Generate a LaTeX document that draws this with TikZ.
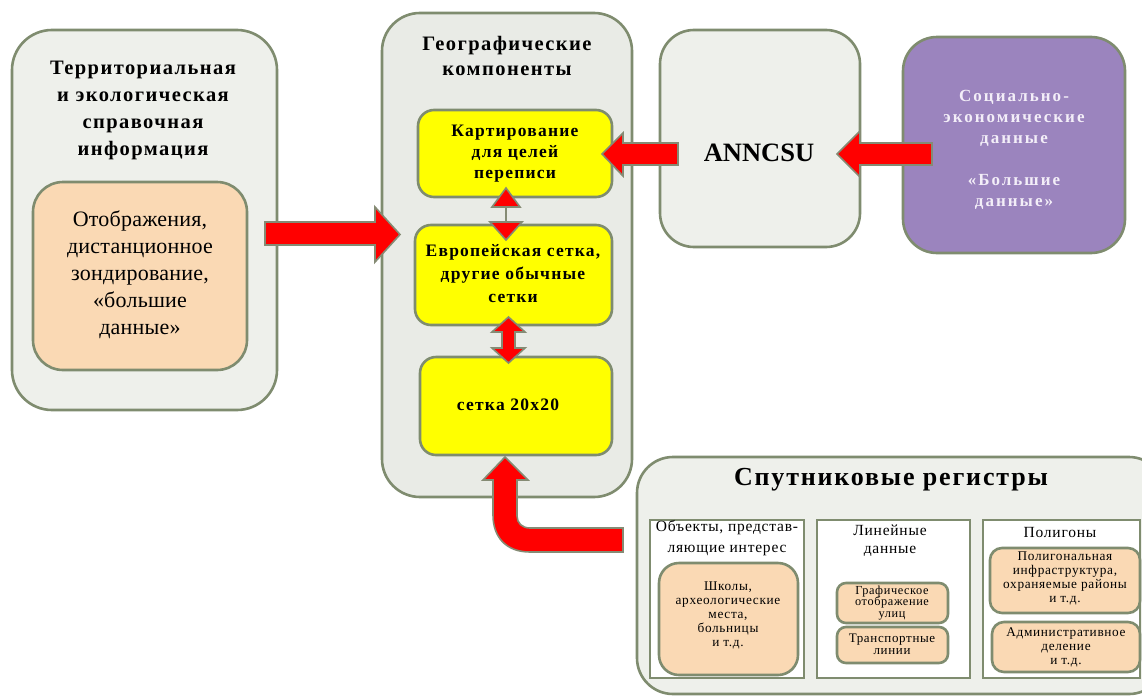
\documentclass[tikz,border=0pt]{standalone}
\usepackage{fontspec}
\setmainfont{Liberation Serif}
\newfontfamily\tnr{Liberation Serif}
\newfontfamily\tnrl[LetterSpace=1]{Liberation Serif}
\newfontfamily\spaced[LetterSpace=7]{Liberation Serif}
\newfontfamily\wide[LetterSpace=12]{Liberation Serif}
\newfontfamily\lightsp[LetterSpace=5]{Liberation Serif}
\definecolor{bord}{HTML}{7F8C6F}
\definecolor{lightbg}{HTML}{EEF0EB}
\definecolor{midbg}{HTML}{E9EBE6}
\definecolor{peach}{HTML}{FAD9B4}
\definecolor{purp}{HTML}{9B84BE}
\definecolor{ylw}{HTML}{FFFF00}
\definecolor{redf}{HTML}{FF0000}
\definecolor{arrbord}{HTML}{858B74}
\definecolor{lavtext}{HTML}{F3EEF8}
\begin{document}
\begin{tikzpicture}[x=1pt,y=-1pt,
  panel/.style={draw=bord, line width=2.6pt, rounded corners=#1, inner sep=0pt},
  sq/.style={draw=bord, line width=2.6pt, fill=white, inner sep=0pt},
  txt/.style={align=center, inner sep=0pt},
  blockarrow/.style={fill=redf, draw=arrbord, line width=1.6pt, line join=miter}
]
\useasboundingbox (0,0) rectangle (1142,696);
\fill[white] (0,0) rectangle (1142,696);

% left panel
\node[panel=40pt, fill=lightbg, minimum width=265pt, minimum height=380pt] (left) at (144.5,220) {};
\node[panel=30pt, fill=peach, minimum width=214pt, minimum height=188pt] (leftin) at (140,276) {};
\node[txt, font=\spaced\bfseries\fontsize{20.5}{27}\selectfont] (lefttitle) at (143,110)
  {Территориальная\\и экологическая\\справочная\\информация};
\node[txt, font=\tnrl\fontsize{22}{27}\selectfont] (lefttext) at (140,275)
  {Отображения,\\дистанционное\\зондирование,\\«большие\\данные»};

% middle panel
\node[panel=38pt, fill=midbg, minimum width=250pt, minimum height=484pt] (mid) at (507,255) {};
\node[txt, font=\spaced\bfseries\fontsize{20.5}{25}\selectfont] (midtitle) at (507,56)
  {Географические\\компоненты};
\node[panel=16pt, fill=ylw, minimum width=194pt, minimum height=87pt] (y1) at (515,153.5) {};
\node[panel=16pt, fill=ylw, minimum width=197pt, minimum height=100pt] (y2) at (513.5,275) {};
\node[panel=16pt, fill=ylw, minimum width=192pt, minimum height=98pt] (y3) at (516,406) {};
\node[txt, font=\spaced\bfseries\fontsize{17.5}{21}\selectfont] (y1t) at (515,154)
  {Картирование\\для целей\\переписи};
\node[txt, font=\spaced\bfseries\fontsize{17.5}{23}\selectfont] (y2t) at (513,274)
  {Европейская сетка,\\другие обычные\\сетки};
\node[txt, font=\spaced\bfseries\fontsize{17.5}{21}\selectfont] (y3t) at (508,405)
  {сетка 20x20};

% ANNCSU
\node[panel=34pt, fill=lightbg, minimum width=200pt, minimum height=217pt] (ann) at (760,138.5) {};
\node[txt, font=\tnr\bfseries\fontsize{26.5}{28}\selectfont] (annt) at (759,153) {ANNCSU};

% purple
\node[panel=34pt, fill=purp, minimum width=222pt, minimum height=216pt] (purple) at (1014,145) {};
\node[txt, text=lavtext, font=\wide\bfseries\fontsize{17}{21}\selectfont] (purplet) at (1014,150)
  {Социально-\\экономические\\данные\\[21pt]«Большие\\данные»};

% bottom panel
\node[panel=36pt, fill=lightbg, minimum width=528pt, minimum height=237pt] (bottom) at (901,575.5) {};
\node[txt, font=\spaced\bfseries\fontsize{26}{30}\selectfont] (bottomt) at (891,480) {Спутниковые регистры};
\node[sq, minimum width=154pt, minimum height=158pt] (s1) at (727,599) {};
\node[sq, minimum width=153pt, minimum height=158pt] (s2) at (893.5,599) {};
\node[sq, minimum width=157pt, minimum height=158pt] (s3) at (1061.5,599) {};
\node[txt, font=\lightsp\fontsize{15.5}{21}\selectfont] (s1t) at (727,538) {Объекты, представ-\\ляющие интерес};
\node[txt, font=\lightsp\fontsize{15.5}{18}\selectfont] (s2t) at (890,541) {Линейные\\данные};
\node[txt, font=\lightsp\fontsize{15.5}{18}\selectfont] (s3t) at (1060,532) {Полигоны};

\node[panel=20pt, fill=peach, minimum width=139pt, minimum height=112pt] (i1) at (728.5,619) {};
\node[panel=9pt, fill=peach, minimum width=111pt, minimum height=40pt] (i2a) at (892.5,603) {};
\node[panel=9pt, fill=peach, minimum width=111pt, minimum height=36pt] (i2b) at (892.5,645) {};
\node[panel=12pt, fill=peach, minimum width=150pt, minimum height=65pt] (i3a) at (1065,580.5) {};
\node[panel=12pt, fill=peach, minimum width=148pt, minimum height=50pt] (i3b) at (1066,647) {};
\node[txt, font=\lightsp\fontsize{13.3}{14}\selectfont] (i1t) at (728,615)
  {Школы,\\археологические\\места,\\больницы\\и т.д.};
\node[txt, font=\lightsp\fontsize{12.3}{11.5}\selectfont] (i2at) at (892,603)
  {Графическое\\отображение\\улиц};
\node[txt, font=\lightsp\fontsize{13}{12}\selectfont] (i2bt) at (892,644)
  {Транспортные\\линии};
\node[txt, font=\lightsp\fontsize{13.3}{14}\selectfont] (i3at) at (1065,578)
  {Полигональная\\инфраструктура,\\охраняемые районы\\и т.д.};
\node[txt, font=\lightsp\fontsize{13.3}{14}\selectfont] (i3bt) at (1066,647)
  {Административное\\деление\\и т.д.};

% arrows
% left -> middle
\draw[blockarrow] (265,222) -- (375,222) -- (375,207) -- (400,234.5) -- (375,262) -- (375,245) -- (265,245) -- cycle;
% ANNCSU -> y1
\draw[blockarrow] (678,143) -- (623,143) -- (623,133) -- (602,154) -- (623,176) -- (623,165) -- (678,165) -- cycle;
% purple -> ANNCSU
\draw[blockarrow] (932,143) -- (860,143) -- (860,131) -- (837,154) -- (860,177) -- (860,165) -- (932,165) -- cycle;
% y1 <-> y2 small
\draw[draw=arrbord, line width=2pt] (506,206) -- (506,223);
\draw[blockarrow] (506,188) -- (520,207) -- (492,207) -- cycle;
\draw[blockarrow] (490,222) -- (522,222) -- (506,240) -- cycle;
% y2 <-> y3 thick
\draw[blockarrow] (508.5,317) -- (525,332) -- (515,332) -- (515,348) -- (525,348) -- (508.5,363) -- (492,348) -- (502,348) -- (502,332) -- (492,332) -- cycle;
% bottom -> y3 curved
\draw[blockarrow] (623,528) -- (530,528) .. controls (522,528) and (517,523) .. (517,516) -- (517,480) -- (528,480) -- (505,457) -- (483,480) -- (493,480) -- (493,515) .. controls (493,537) and (506,552) .. (530,552) -- (623,552) -- cycle;
\end{tikzpicture}
\end{document}
